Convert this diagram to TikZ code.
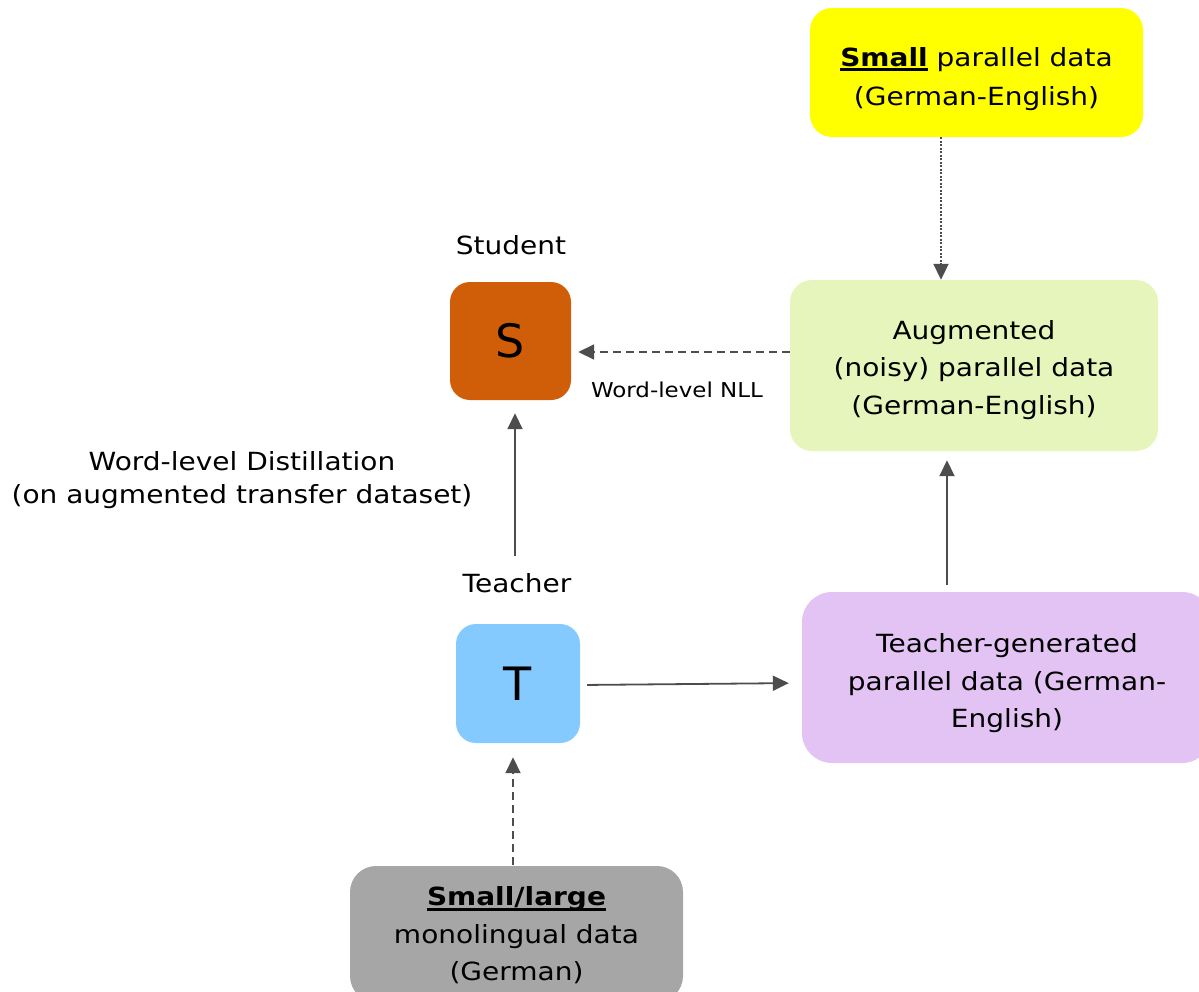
\documentclass[tikz,border=0pt]{standalone}
\usepackage{fontspec}
\setmainfont{DejaVu Sans}[FakeStretch=1.12]
\newfontfamily\letterfont{DejaVu Sans}
\usetikzlibrary{arrows.meta,calc}
\newcommand\myul[1]{\setbox0\hbox{#1}\rlap{\rule[-5pt]{\wd0}{3pt}}\box0\relax}
\definecolor{cyellow}{HTML}{FFFF00}
\definecolor{cgreen}{HTML}{E6F5BB}
\definecolor{corange}{HTML}{D05E08}
\definecolor{cblue}{HTML}{84CAFF}
\definecolor{cpurple}{HTML}{E2C3F3}
\definecolor{cgray}{HTML}{A6A6A6}
\definecolor{carrow}{HTML}{4D4D4D}
\tikzset{
  box/.style={rounded corners=22pt, inner sep=0pt},
  boxtext/.style={inner sep=0pt, align=center, font=\fontsize{25}{37.5}\selectfont},
  letter/.style={rounded corners=20pt, inner sep=0pt, font=\letterfont\fontsize{46}{50}\selectfont},
  lbl/.style={inner sep=0pt, align=center, font=\fontsize{25}{33}\selectfont},
  small/.style={inner sep=0pt, font=\fontsize{20.5}{25}\selectfont},
  conn/.style={draw=carrow, line width=1.8pt, -{Triangle[length=16pt,width=15pt]}},
  dashconn/.style={conn, dash pattern=on 8pt off 5pt},
  dotconn/.style={conn, line width=2pt, dash pattern=on 2pt off 1.5pt},
}
\begin{document}
\begin{tikzpicture}[x=1pt,y=-1pt]
\useasboundingbox (0,0) rectangle (1199,991);
\clip (0,0) rectangle (1199,991);
\node[box, fill=cyellow, minimum width=333pt, minimum height=129pt] (yellow) at (976.5,72.5) {};
\node[boxtext, font=\fontsize{25}{39}\selectfont] (yellowtxt) at ([yshift=-6.5pt]yellow.center)
  {\myul{\textbf{Small}} parallel data\\(German-English)};
\node[box, fill=cgreen, minimum width=368pt, minimum height=171pt] (green) at (974,365.5) {};
\node[boxtext] (greentxt) at ([yshift=-4.5pt]green.center)
  {Augmented\\(noisy) parallel data\\(German-English)};
\node[letter, fill=corange, minimum width=121pt, minimum height=118pt] (S) at (510.5,341) {S};
\node[letter, fill=cblue, minimum width=124pt, minimum height=119pt] (T) at (518,683.5) {T};
\node[box, rounded corners=30pt, fill=cpurple, minimum width=410pt, minimum height=171pt] (purple) at (1007,677.5) {};
\node[boxtext] (purpletxt) at ([yshift=-6pt]purple.center)
  {Teacher-generated\\parallel data (German-\\English)};
\node[box, rounded corners=26pt, fill=cgray, minimum width=333pt, minimum height=136pt] (gray) at (516.5,934) {};
\node[boxtext] (graytxt) at ([yshift=-1.5pt]gray.center)
  {\myul{\textbf{Small/large}}\\monolingual data\\(German)};
\node[lbl, anchor=base] (student) at (511,254) {Student};
\node[lbl, anchor=base] (teacher) at (517,592) {Teacher};
\node[small, anchor=base] (nll) at (677,397) {Word-level NLL};
\node[lbl] (distil) at (242,480) {Word-level Distillation\\(on augmented transfer dataset)};

\draw[dotconn] ([xshift=-35.5pt]yellow.south) -- ([xshift=-33pt]green.north);
\draw[dashconn, shorten >=7pt] ([yshift=13.5pt]green.west) -- ([yshift=-11pt]S.east);
\draw[conn, shorten <=68pt, shorten >=13pt] ([xshift=-3pt]T.north) -- ([xshift=4.5pt]S.south);
\draw[conn, shorten <=7pt, shorten >=13pt] ([yshift=-1.5pt]T.east) -- ([yshift=-5.5pt]purple.west);
\draw[conn, shorten <=7pt, shorten >=9pt] ([xshift=-60pt]purple.north) -- ([xshift=-27pt]green.south);
\draw[dashconn, shorten <=1pt, shorten >=14pt] ([xshift=-3.5pt]gray.north) -- ([xshift=-5pt]T.south);
\end{tikzpicture}
\end{document}
